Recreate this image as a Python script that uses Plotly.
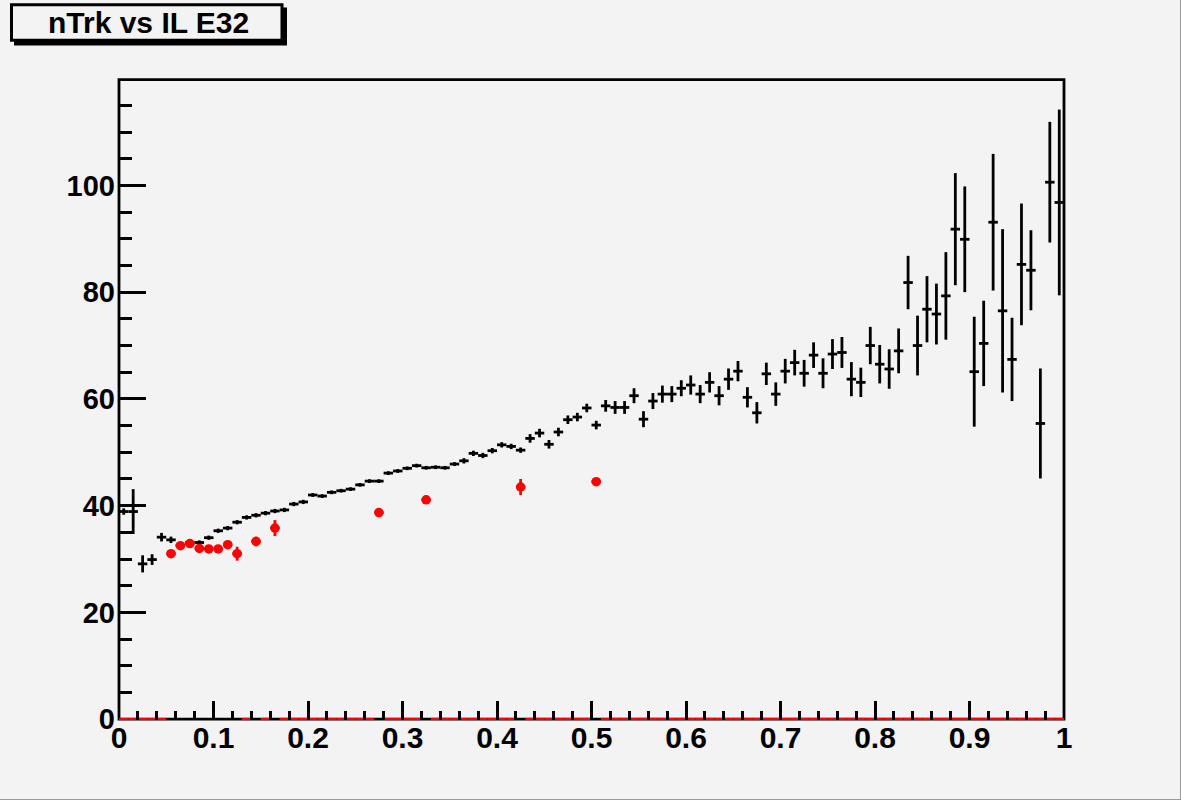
import plotly.graph_objects as go

# ---------------- data ----------------
bin_centers = [0.005, 0.015, 0.025, 0.035, 0.045, 0.055, 0.065, 0.075, 0.085, 0.095,
               0.105, 0.115, 0.125, 0.135, 0.145, 0.155, 0.165, 0.175, 0.185, 0.195,
               0.205, 0.215, 0.225, 0.235, 0.245, 0.255, 0.265, 0.275, 0.285, 0.295,
               0.305, 0.315, 0.325, 0.335, 0.345, 0.355, 0.365, 0.375, 0.385, 0.395,
               0.405, 0.415, 0.425, 0.435, 0.445, 0.455, 0.465, 0.475, 0.485, 0.495,
               0.505, 0.515, 0.525, 0.535, 0.545, 0.555, 0.565, 0.575, 0.585, 0.595,
               0.605, 0.615, 0.625, 0.635, 0.645, 0.655, 0.665, 0.675, 0.685, 0.695,
               0.705, 0.715, 0.725, 0.735, 0.745, 0.755, 0.765, 0.775, 0.785, 0.795,
               0.805, 0.815, 0.825, 0.835, 0.845, 0.855, 0.865, 0.875, 0.885, 0.895,
               0.905, 0.915, 0.925, 0.935, 0.945, 0.955, 0.965, 0.975, 0.985, 0.995]

black_y = [38.9, 38.9, 29.1, 29.9, 34.1, 33.6, 32.6, 33.1, 33.1, 34.0,
           35.3, 35.8, 36.9, 37.8, 38.2, 38.6, 39.0, 39.2, 40.3, 40.7,
           42.0, 41.8, 42.5, 42.8, 43.1, 43.9, 44.6, 44.6, 46.1, 46.5,
           47.0, 47.5, 47.1, 47.2, 47.1, 47.8, 48.4, 49.8, 49.4, 50.3,
           51.4, 51.1, 50.4, 52.6, 53.6, 51.5, 53.8, 56.1, 56.6, 58.3,
           55.1, 58.7, 58.4, 58.4, 60.6, 56.2, 59.6, 60.9, 60.9, 62.0,
           62.6, 60.9, 63.1, 60.6, 63.7, 65.2, 60.3, 57.4, 64.7, 60.9,
           65.2, 66.8, 64.8, 68.2, 64.8, 68.4, 68.7, 63.7, 63.1, 70.0,
           66.5, 65.6, 69.0, 81.8, 70.0, 76.8, 75.9, 79.3, 91.8, 89.9,
           65.1, 70.4, 93.1, 76.5, 67.4, 85.2, 84.1, 55.4, 100.6, 96.8]

black_err = [0.6, 4.2, 1.6, 1.0, 0.8, 0.6, 0.4, 0.4, 0.4, 0.4,
             0.4, 0.4, 0.4, 0.4, 0.4, 0.4, 0.4, 0.4, 0.4, 0.4,
             0.35, 0.35, 0.35, 0.35, 0.35, 0.35, 0.35, 0.35, 0.35, 0.35,
             0.35, 0.35, 0.35, 0.35, 0.35, 0.35, 0.5, 0.5, 0.5, 0.5,
             0.5, 0.5, 0.5, 0.8, 0.8, 0.8, 0.8, 0.8, 0.8, 0.8,
             0.8, 1.1, 1.2, 1.2, 1.4, 1.5, 1.5, 1.6, 1.5, 1.5,
             1.8, 1.7, 1.9, 1.8, 2.0, 1.9, 1.9, 2.0, 2.1, 2.2,
             2.3, 2.4, 2.5, 2.4, 2.8, 2.8, 2.9, 3.2, 2.75, 3.5,
             3.6, 3.7, 4.2, 5.0, 5.6, 6.2, 5.7, 8.2, 10.5, 9.9,
             10.3, 8.0, 12.8, 15.3, 7.8, 11.4, 7.5, 10.3, 11.3, 17.4]

red_x = [0.055, 0.065, 0.075, 0.085, 0.095, 0.105, 0.115, 0.125, 0.145, 0.165,
         0.275, 0.325, 0.425, 0.505]
red_y = [31.0, 32.5, 32.9, 32.0, 31.9, 31.9, 32.7, 31.0, 33.3, 35.8,
         38.7, 41.1, 43.5, 44.5]
red_err = [0.5, 0.5, 0.5, 0.5, 0.5, 0.5, 0.5, 1.3, 0.9, 1.5,
           0.5, 0.5, 1.5, 0.5]

# empty bins of the red profile (drawn at zero)
red_empty_x = [c for c in bin_centers if c not in red_x]
red_empty_y = [0 for _ in red_empty_x]

x_tickvals = [0, 0.1, 0.2, 0.3, 0.4, 0.5, 0.6, 0.7, 0.8, 0.9, 1]
x_ticktext = ["0", "0.1", "0.2", "0.3", "0.4", "0.5", "0.6", "0.7", "0.8", "0.9", "1"]
y_tickvals = [0, 20, 40, 60, 80, 100]
y_ticktext = ["0", "20", "40", "60", "80", "100"]

title_text = "nTrk vs IL E32"

# ---------------- layout constants ----------------
W, H = 1181, 800
ML, MR, MT, MB = 119, 117, 79, 80
PW, PH = W - ML - MR, H - MT - MB
BG = "#f3f3f3"
FONT = "Liberation Sans"

FRAME_TOP = 119.8           # y value at the frame top
Y_MIN, Y_MAX = -0.15, 119.93  # axis range (frame sits just inside)


def px_x(p):
    return (p - ML) / PW


def px_y(p):
    return (H - MB - p) / PH


frame_y0 = (0 - Y_MIN) / (Y_MAX - Y_MIN)
frame_y1 = (FRAME_TOP - Y_MIN) / (Y_MAX - Y_MIN)

fig = go.Figure()

transparent = dict(size=1, color="rgba(0,0,0,0)")

fig.add_trace(go.Scatter(
    x=bin_centers, y=black_y, mode="markers", marker=transparent,
    error_y=dict(type="data", array=black_err, width=0, thickness=2.8, color="black"),
    error_x=dict(type="constant", value=0.005, width=0, thickness=2.8, color="black"),
    showlegend=False, hoverinfo="x+y"))

fig.add_trace(go.Scatter(
    x=red_empty_x, y=red_empty_y, mode="markers", marker=transparent,
    error_x=dict(type="constant", value=0.005, width=0, thickness=2.6, color="red"),
    showlegend=False, hoverinfo="skip"))

fig.add_trace(go.Scatter(
    x=red_x, y=red_y, mode="markers",
    marker=dict(symbol="circle", size=9.5, color="red", line=dict(width=0)),
    error_y=dict(type="data", array=red_err, width=0, thickness=2.8, color="red"),
    error_x=dict(type="constant", value=0.005, width=0, thickness=2.8, color="red"),
    showlegend=False))

axis_common = dict(
    showline=False, showgrid=False, zeroline=False,
    ticks="inside", tickcolor="black", tickwidth=3,
)

fig.update_layout(
    width=W, height=H,
    margin=dict(l=ML, r=MR, t=MT, b=MB, pad=0),
    paper_bgcolor=BG, plot_bgcolor=BG,
    xaxis=dict(
        range=[0, 1], tickmode="array", tickvals=x_tickvals, ticktext=x_ticktext,
        ticklen=19, ticklabelstandoff=-3,
        minor=dict(ticks="inside", ticklen=9, tickwidth=3, tickcolor="black",
                   dtick=0.02, tick0=0, showgrid=False),
        tickfont=dict(family=FONT, size=30, color="black", weight="bold"),
        **axis_common),
    yaxis=dict(
        range=[Y_MIN, Y_MAX], tickmode="array", tickvals=y_tickvals, ticktext=y_ticktext,
        ticklen=27, ticklabelstandoff=3,
        minor=dict(ticks="inside", ticklen=13, tickwidth=3, tickcolor="black",
                   dtick=5, tick0=0, showgrid=False),
        tickfont=dict(family=FONT, size=29, color="black", weight="bold"),
        **axis_common),
    shapes=[
        # frame
        dict(type="rect", xref="paper", yref="paper", layer="below",
             x0=0, x1=1, y0=frame_y0, y1=frame_y1,
             fillcolor="rgba(0,0,0,0)", line=dict(color="black", width=2.8)),
        # title box shadow
        dict(type="rect", xref="paper", yref="paper", layer="above",
             x0=px_x(14), x1=px_x(287), y0=px_y(45.6), y1=px_y(7.5),
             fillcolor="black", line=dict(width=0)),
        # title box
        dict(type="rect", xref="paper", yref="paper", layer="above",
             x0=px_x(11.5), x1=px_x(282), y0=px_y(40.3), y1=px_y(4.8),
             fillcolor=BG, line=dict(color="black", width=3)),
        # canvas bevel (right / bottom)
        dict(type="line", xref="paper", yref="paper", layer="above",
             x0=px_x(1180.5), x1=px_x(1180.5), y0=px_y(0), y1=px_y(800),
             line=dict(color="#9a9a9a", width=1)),
        dict(type="line", xref="paper", yref="paper", layer="above",
             x0=px_x(0), x1=px_x(1181), y0=px_y(799.5), y1=px_y(799.5),
             line=dict(color="#9a9a9a", width=1)),
    ],
    annotations=[
        dict(text=title_text, xref="paper", yref="paper", showarrow=False,
             x=px_x(148), y=px_y(22.5), xanchor="center", yanchor="middle",
             font=dict(family=FONT, size=30, color="black", weight="bold")),
    ],
)

fig.write_html("out.html", config={"displayModeBar": False},
               post_script="document.body.style.margin='0';")
